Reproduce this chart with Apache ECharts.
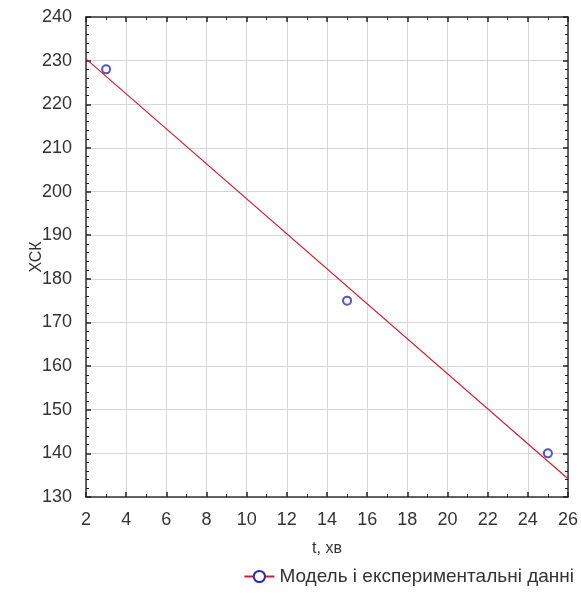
<!DOCTYPE html>
<html>
<head>
<meta charset="utf-8">
<script src="https://cdn.jsdelivr.net/npm/echarts@6/dist/echarts.min.js"></script>
<style>
html,body{margin:0;padding:0;background:#fff;}
#chart{width:581px;height:597px;}
</style>
</head>
<body>
<div id="chart"></div>
<script>
// експериментальні точки
var tExp = [3, 15, 25];
var hskExp = [228, 175, 140];
// модель (кінці прямої)
var tModel = [2, 26];
var hskModel = [230.4, 134.2];

var seriesName = "Модель і експериментальні данні";
var font = "Liberation Sans, Arial, sans-serif";

var chart = echarts.init(document.getElementById("chart"));

function axisBase(show){
	return {
		axisLine:{show:true, lineStyle:{color:'#333', width:1.5}},
		axisTick:{show:true, inside:true, length:5, lineStyle:{color:'#222', width:1.5}},
		minorTick:{show:true, splitNumber:2, length:3, lineStyle:{color:'#222'}},
		splitLine:{show:show, lineStyle:{color:'#d6d6d6', width:1}},
		axisLabel:{show:show, color:'#333', fontSize:18, fontFamily:font}
	};
}

var xMain = Object.assign(axisBase(true), {
	type:'value', min:2, max:26, interval:2, position:'bottom',
	name:'t, хв', nameLocation:'middle', nameGap:44, nameMoveOverlap:false,
	nameTextStyle:{color:'#333', fontSize:16, fontFamily:font}
});
xMain.axisLabel.margin = 14;
var xTop = Object.assign(axisBase(false), {
	type:'value', min:2, max:26, interval:2, position:'top'
});
var yMain = Object.assign(axisBase(true), {
	type:'value', min:130, max:240, interval:10, position:'left',
	name:'ХСК', nameLocation:'middle', nameGap:41, nameMoveOverlap:false,
	nameTextStyle:{color:'#333', fontSize:16, fontFamily:font}
});
yMain.minorTick.splitNumber = 5;
yMain.axisLabel.margin = 14;
var yRight = Object.assign(axisBase(false), {
	type:'value', min:130, max:240, interval:10, position:'right'
});
yRight.minorTick.splitNumber = 5;

chart.setOption({
	animation:false,
	backgroundColor:'#fff',
	grid:{left:86, right:11, top:17, bottom:100},
	legend:{
		data:[seriesName],
		right:2, bottom:6,
		itemWidth:30, itemHeight:14, itemGap:10,
		textStyle:{color:'#333', fontSize:19, fontFamily:font}
	},
	xAxis:[xMain, xTop],
	yAxis:[yMain, yRight],
	series:[{
		name:seriesName,
		type:'line',
		data:tModel.map(function(t,i){return [t, hskModel[i]];}),
		symbol:'emptyCircle',
		symbolSize:8,
		showSymbol:false,
		itemStyle:{color:'#2a2ab8', borderColor:'#2a2ab8'},
		lineStyle:{color:'#cc1f35', width:1.2},
		z:2
	},{
		name:'exp',
		type:'scatter',
		data:tExp.map(function(t,i){return [t, hskExp[i]];}),
		symbol:'emptyCircle',
		symbolSize:8,
		itemStyle:{color:'#2a2ab8', borderColor:'#2a2ab8', borderWidth:1.5},
		z:3
	}]
});
</script>
</body>
</html>
